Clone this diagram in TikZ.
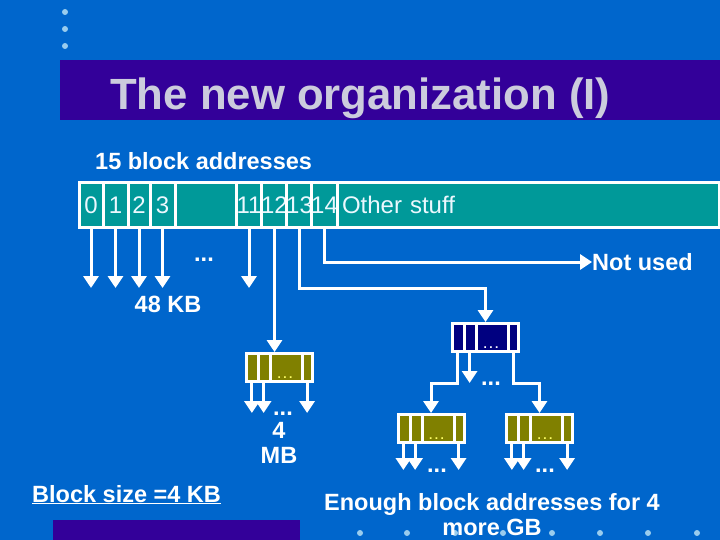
\documentclass[tikz,border=0pt]{standalone}
\usepackage{fontspec}
\setmainfont{Liberation Sans}
\usepackage{xcolor}
\definecolor{sky}{HTML}{0066CC}
\definecolor{band}{HTML}{330099}
\definecolor{haze}{HTML}{CCCCDD}
\definecolor{pale}{HTML}{99CCEE}
\definecolor{strip}{HTML}{009999}
\definecolor{mud}{HTML}{808000}
\definecolor{deep}{HTML}{000080}
\definecolor{glow}{HTML}{FFFF66}
\usepackage{tikz}
\usetikzlibrary{arrows.meta, positioning, calc}
\tikzset{
  >={Triangle[width=15pt, length=12pt]},
  flow/.style={->, draw=white, line width=3pt},
  cell/.style={draw=white, line width=3pt, fill=strip, minimum height=45pt, inner sep=0pt,
    text=cyan!8, font=\fontsize{24}{26}\selectfont, text height=17pt, text depth=0pt},
  blk/.style={draw=white, line width=3pt, minimum width=66pt, minimum height=28pt, inner sep=0pt},
  lbl/.style={text=white, font=\fontsize{23.5}{25}\selectfont\bfseries, inner sep=0pt},
  bdots/.style={font=\fontsize{12}{12}\selectfont\bfseries, inner sep=0pt},
}

\begin{document}
\begin{tikzpicture}[x=1pt, y=-1pt]
  \useasboundingbox (0,0) rectangle (720,540);
  \fill[sky] (0,0) rectangle (720,540);

  % slide furniture
  \foreach \y in {12,29,46} \fill[pale] (65,\y) circle (3pt);
  \foreach \x in {360,407,455,503,552,600,648,697} \fill[pale] (\x,533) circle (3pt);
  \fill[band] (60,60) rectangle (720,120);
  \fill[band] (53,520) rectangle (300,540);
  \node[anchor=base west, text=haze, inner sep=0pt, font=\fontsize{43.7}{48}\selectfont\bfseries]
    (title) at (110,110) {The new organization (I)};

  % the inode strip
  \foreach \n/\xa/\xb/\t in {c0/79/103/0, c1/103/128/1, c2/128/150/2, c3/150/175/3, cg/175/236/{},
      c11/236/262/11, c12/262/287/12, c13/287/312/13, c14/312/337/14}
    \node[cell, minimum width={(\xb-\xa)*1pt}] (\n) at ({(\xa+\xb)/2},205) {\t};
  \node[cell, minimum width=382pt, text width=372pt, align=left] (co) at (528,205) {Other stuff};

  \node[lbl, anchor=base west] (addr) at (95,170) {15 block addresses};
  \node[lbl, anchor=base] (kb48) at (168,312) {48 KB};
  \node[lbl, anchor=west] (nu) at (592,262) {Not used};
  \node[lbl, anchor=base west] (bsz) at (32,502) {\underline{Block size =4 KB}};
  \node[lbl, align=center] (more) at (492,515) {Enough block addresses for 4\\more GB};
  \node[lbl, align=center] (mbsz) at (279,443) {4\\MB};
  \node[lbl, anchor=base] (d48) at (204,261) {...};

  % indirect blocks
  \node[blk, fill=mud] (mb) at (279.5,367.5) {};
  \node[blk, fill=deep] (gb) at (485.5,337.5) {};
  \node[blk, fill=mud] (la) at (431,428.5) {};
  \node[blk, fill=mud] (lb) at (539.5,428.5) {};
  \foreach \b/\c in {mb/glow, gb/white, la/glow, lb/glow}{
    \foreach \f in {0.2,0.37,0.84}
      \draw[white, line width=3pt] ($(\b.north west)!\f!(\b.north east)$)
        -- ($(\b.south west)!\f!(\b.south east)$);
    \node[bdots, text=\c, anchor=base] (\b-in) at ($(\b.south west)!0.58!(\b.south east)+(0,-5)$)
      {.\hspace{2.5pt}.\hspace{2.5pt}.};
    \coordinate (\b-a) at ($(\b.south west)!0.1!(\b.south east)$);
    \coordinate (\b-b) at ($(\b.south west)!0.27!(\b.south east)$);
    \coordinate (\b-c) at ($(\b.south west)!0.9!(\b.south east)$);
  }

  \node[lbl, anchor=base] (dmb) at (283,415) {...};
  \node[lbl, anchor=base] (dgb) at (491,385) {...};
  \node[lbl, anchor=base] (dla) at (437,472) {...};
  \node[lbl, anchor=base] (dlb) at (545,472) {...};

  \coordinate (lvA) at (0,288);
  \coordinate (lvB) at (0,383);
  \coordinate (lvC) at (0,413);
  \coordinate (lvD) at (0,470);

  % pointers
  \foreach \n in {c0,c1,c2,c3,c11} \draw[flow] (\n.south) -- (\n.south |- lvA);
  \draw[flow] (c12.south) -- (c12.south |- mb.north);
  \draw[flow] (c13.south) |- (gb.north |- lvA) -- (gb.north);
  \draw[flow] (c14.south) |- (nu.west);
  \draw[flow] (gb-a) |- (la.north |- lvB) -- (la.north);
  \draw[flow] (gb-b) -- (gb-b |- lvB);
  \draw[flow] (gb-c) |- (lb.north |- lvB) -- (lb.north);
  \foreach \p in {mb-a,mb-b,mb-c} \draw[flow] (\p) -- (\p |- lvC);
  \foreach \p in {la-a,la-b,la-c,lb-a,lb-b,lb-c} \draw[flow] (\p) -- (\p |- lvD);
\end{tikzpicture}
\end{document}
